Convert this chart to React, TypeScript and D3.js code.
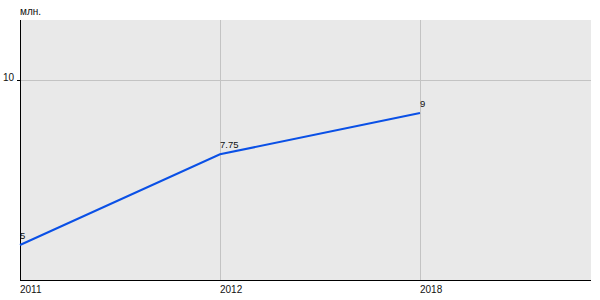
import React from "react";
import * as d3 from "d3";

const categories = ["2011", "2012", "2018"];
const values = [5, 7.75, 9];
const valueLabels = ["5", "7.75", "9"];
const yTicks = [10];
const yUnit = "млн.";

export default function App() {
  const W = 600, H = 300;
  const left = 20, right = 591, top = 20, bottom = 280;
  const x = d3.scalePoint<string>().domain(categories).range([left, 420]);
  const y = d3.scaleLinear().domain([3.94, 11.82]).range([bottom, top]);
  const line = d3
    .line<number>()
    .x((_, i) => x(categories[i]) as number)
    .y((d) => y(d));
  const font = "Liberation Sans, Arial, sans-serif";
  return (
    <svg
      width={W}
      height={H}
      style={{ position: "absolute", left: 0, top: 0 }}
      fontFamily={font}
    >
      <rect x={0} y={0} width={W} height={H} fill="#fff" />
      <rect x={left} y={top} width={right - left} height={bottom - top} fill="#e9e9e9" />
      {yTicks.map((t) => (
        <g key={t}>
          <line x1={left} x2={right} y1={Math.round(y(t)) + 0.5} y2={Math.round(y(t)) + 0.5} stroke="#c3c3c3" />
          <line x1={left - 3} x2={left} y1={Math.round(y(t)) + 0.5} y2={Math.round(y(t)) + 0.5} stroke="#000" />
          <text x={14} y={y(t) + 0.5} fontSize={10} textAnchor="end" fill="#111">
            {t}
          </text>
        </g>
      ))}
      {categories.map((c) => (
        <g key={c}>
          {(x(c) as number) > left && (
            <line x1={(x(c) as number) + 0.5} x2={(x(c) as number) + 0.5} y1={top} y2={bottom} stroke="#c3c3c3" />
          )}
          <text x={x(c) as number} y={293} fontSize={10} fill="#111">
            {c}
          </text>
        </g>
      ))}
      <line x1={left + 0.5} x2={left + 0.5} y1={top} y2={bottom + 1} stroke="#000" />
      <line x1={left} x2={right} y1={bottom + 0.5} y2={bottom + 0.5} stroke="#000" />
      <text x={left} y={15} fontSize={10} fill="#111">
        {yUnit}
      </text>
      <path d={line(values) || ""} fill="none" stroke="#0a50e6" strokeWidth={2} />
      {values.map((v, i) => (
        <text key={i} x={x(categories[i]) as number} y={y(v) - 6} fontSize={9.5} fill="#111">
          {valueLabels[i]}
        </text>
      ))}
    </svg>
  );
}
